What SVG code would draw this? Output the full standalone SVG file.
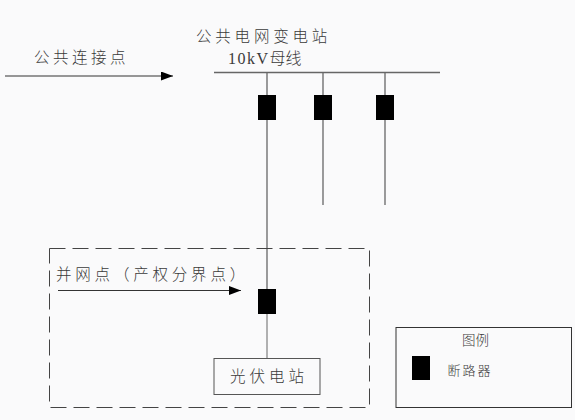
<svg xmlns="http://www.w3.org/2000/svg" width="575" height="420" viewBox="0 0 575 420">
<style>
.t{font-family:"Noto Sans CJK SC","Liberation Serif",serif;fill:#3a3a3a;font-weight:300}
.l{stroke:#666;fill:none;stroke-width:1.3}
.thin{stroke:#333;fill:none;stroke-width:1}
.brk{fill:#000}
.box{fill:none;stroke:#555;stroke-width:1}
</style>
<defs><marker id="arr" markerUnits="userSpaceOnUse" markerWidth="12" markerHeight="9" refX="12" refY="4.500" orient="auto"><path d="M0 0L12 4.500L0 9Z" fill="#000"/></marker></defs>
<rect width="575" height="420" fill="#fafafb"/>
<g id="connectors">
<line class="thin" x1="5" y1="76" x2="173" y2="76" marker-end="url(#arr)"/>
<line class="thin" x1="58" y1="290.500" x2="241" y2="290.500" marker-end="url(#arr)"/>
<line class="l" x1="214" y1="72.500" x2="440" y2="72.500"/>
<line class="l" x1="267" y1="73" x2="267" y2="290"/>
<line class="l" x1="323" y1="73" x2="323" y2="205"/>
<line class="l" x1="385" y1="73" x2="385" y2="205"/>
<line class="l" x1="267" y1="312" x2="267" y2="358" style="stroke-width:1"/>
</g>
<g id="bk1"><rect class="brk" x="258" y="95" width="18" height="25"/></g>
<g id="bk2"><rect class="brk" x="314" y="95" width="18" height="25"/></g>
<g id="bk3"><rect class="brk" x="376" y="95" width="18" height="25"/></g>
<g id="bk4"><rect class="brk" x="258" y="289" width="18" height="25"/></g>
<g id="boundary"><rect x="49.500" y="248.500" width="320" height="159" fill="none" stroke="#444" stroke-width="1" stroke-dasharray="16 7"/></g>
<g id="pv"><rect class="box" x="214" y="358.500" width="106" height="36"/><text class="t" x="269" y="382" font-size="15.500" text-anchor="middle" letter-spacing="4">光伏电站</text></g>
<g id="legend"><rect x="396" y="327.500" width="175.500" height="80" fill="none" stroke="#333" stroke-width="1"/><text class="t" x="475.500" y="345" font-size="13.500" text-anchor="middle">图例</text><rect class="brk" x="412" y="356" width="18" height="24"/><text class="t" x="470" y="375" font-size="13" text-anchor="middle" letter-spacing="2">断路器</text></g>
<g id="labels">
<text class="t" x="34" y="63" font-size="15.500" letter-spacing="3.500">公共连接点</text>
<text class="t" x="196" y="42" font-size="15.500" letter-spacing="3.800">公共电网变电站</text>
<text x="228" y="64" font-size="16" fill="#3a3a3a" font-family="'Liberation Serif','Noto Sans CJK SC',serif" letter-spacing="1.500">10kV<tspan font-family="'Noto Sans CJK SC',serif" font-size="16" font-weight="300" letter-spacing="0">母线</tspan></text>
<text class="t" x="56" y="280" font-size="15.500" letter-spacing="3.800">并网点（产权分界点）</text>
</g>
</svg>
